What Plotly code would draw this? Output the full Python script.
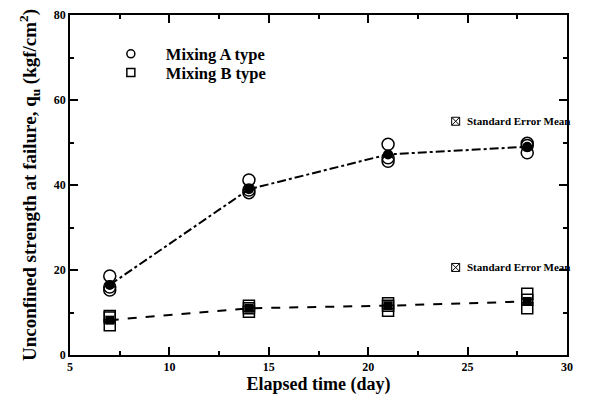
import plotly.graph_objects as go

days = [7, 14, 21, 28]
a_samples = [[18.6, 16.0, 15.3], [41.2, 38.2, 38.8], [49.6, 46.4, 45.6], [49.8, 49.3, 47.6]]
a_mean = [16.5, 39.0, 47.2, 49.0]
b_samples = [[8.8, 7.0, 9.2], [11.6, 10.2, 11.0], [12.2, 10.4, 11.6], [14.4, 13.0, 11.0]]
b_mean = [8.2, 11.0, 11.6, 12.6]
sem_label = "Standard Error Mean"
sem_pos_x = [24.4, 24.4]
sem_pos_y = [55.0, 20.6]

FONT = "Liberation Serif"

fig = go.Figure()

def flat(days, samples):
    xs, ys = [], []
    for d, s in zip(days, samples):
        for v in s:
            xs.append(d)
            ys.append(v)
    return xs, ys

ax, ay = flat(days, a_samples)
bx, by = flat(days, b_samples)

fig.add_trace(go.Scatter(x=days, y=a_mean, mode="lines", line=dict(color="black", width=2, dash="dashdot"), showlegend=False))
fig.add_trace(go.Scatter(x=days, y=b_mean, mode="lines", line=dict(color="black", width=2, dash="dash"), showlegend=False))
fig.add_trace(go.Scatter(x=ax, y=ay, mode="markers", showlegend=False,
                         marker=dict(symbol="circle-open", size=12, color="black", line=dict(width=1.5))))
fig.add_trace(go.Scatter(x=bx, y=by, mode="markers", showlegend=False,
                         marker=dict(symbol="square-open", size=11, color="black", line=dict(width=1.5))))
fig.add_trace(go.Scatter(x=days, y=a_mean, mode="markers", showlegend=False,
                         marker=dict(symbol="circle", size=10, color="black")))
fig.add_trace(go.Scatter(x=days, y=b_mean, mode="markers", showlegend=False,
                         marker=dict(symbol="square", size=9, color="black")))
# legend entries
fig.add_trace(go.Scatter(x=[None], y=[None], mode="markers", name="Mixing A type", legend="legend",
                         marker=dict(symbol="circle-open", size=8, color="black", line=dict(width=1.5))))
fig.add_trace(go.Scatter(x=[None], y=[None], mode="markers", name="Mixing B type", legend="legend2",
                         marker=dict(symbol="square-open", size=8, color="black", line=dict(width=1.5))))

# Standard error mean icons
fig.add_trace(go.Scatter(x=sem_pos_x, y=sem_pos_y, mode="markers", showlegend=False,
                         marker=dict(symbol="square-x-open", size=8, color="black", line=dict(width=1))))
for sx, sy in zip(sem_pos_x, sem_pos_y):
    fig.add_annotation(x=sx, y=sy, xref="x", yref="y", text=sem_label, showarrow=False,
                       xanchor="left", yanchor="middle", xshift=9,
                       font=dict(family=FONT, size=11, color="black", weight="bold"))

axis_common = dict(showline=True, linecolor="black", linewidth=1.5, mirror="ticks",
                   ticks="inside", ticklen=8, tickwidth=1.5, tickcolor="black",
                   showgrid=False, zeroline=False, automargin=False, ticklabeloverflow="allow",
                   tickfont=dict(family=FONT, size=12, color="black", weight="bold"))

fig.update_xaxes(range=[5, 30], dtick=5, tick0=5,
                 minor=dict(dtick=2.5, ticks="inside", ticklen=4, tickcolor="black", tickwidth=1.5),
                 title=dict(text="Elapsed time (day)", font=dict(family=FONT, size=18, color="black", weight="bold"), standoff=0),
                 **axis_common)
fig.update_yaxes(range=[0, 80], dtick=20,
                 minor=dict(dtick=10, ticks="inside", ticklen=4, tickcolor="black", tickwidth=1.5),
                 title=dict(text="Unconfined strength at failure, q<sub>u</sub> (kgf/cm<sup>2</sup>)",
                            font=dict(family=FONT, size=19, color="black", weight="bold"), standoff=12),
                 **axis_common)

leg_common = dict(xanchor="left", yanchor="middle", bgcolor="rgba(0,0,0,0)",
                  font=dict(family=FONT, size=16.5, color="black", weight="bold"), itemwidth=60)
fig.update_layout(
    width=605, height=400,
    margin=dict(l=62, r=46, t=7, b=53),
    plot_bgcolor="white", paper_bgcolor="white",
    font=dict(family=FONT, color="black"),
    legend=dict(x=0.052, y=0.885, **leg_common),
    legend2=dict(x=0.052, y=0.83, **leg_common),
)

fig.write_html("out.html")
